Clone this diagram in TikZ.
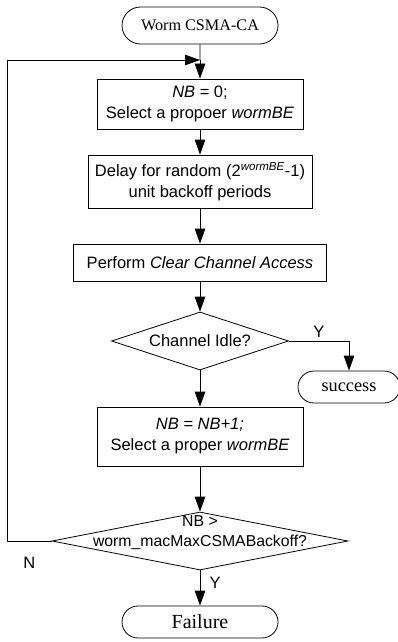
\documentclass[tikz,border=0pt]{standalone}
\usepackage{fontspec}
\setmainfont{Liberation Sans}
\newfontfamily\termfont{Liberation Serif}
\usetikzlibrary{shapes.geometric,shapes.misc,arrows.meta}

\begin{document}
\begin{tikzpicture}[x=1pt, y=-1pt, line width=0.8pt,
  font=\fontsize{16.5}{21}\selectfont,
  term/.style={draw, rounded rectangle, inner sep=0pt},
  proc/.style={draw, rectangle, inner sep=0pt, align=center},
  decide/.style={draw, diamond, inner sep=0pt},
  flow/.style={-{Triangle[length=15pt, width=10.5pt]}}]
  \useasboundingbox (0,0) rectangle (398,642);
  % Start and the loop entry
  \node[term, minimum width=156pt, minimum height=37pt,
        font=\termfont\fontsize{16.2}{19}\selectfont] (start) at (200,25.5) {Worm CSMA-CA};
  \coordinate (join) at (200,60);
  \coordinate (loop) at (7,60);
  % Process boxes
  \node[proc, minimum width=206pt, minimum height=50pt] (reset) at (200,104)
    {\textit{NB} = 0;\\Select a propoer \textit{wormBE}};
  \node[proc, minimum width=224pt, minimum height=53pt] (delay) at (200,181.5)
    {Delay for random (2\textsuperscript{\itshape wormBE}-1)\\unit backoff periods};
  \node[proc, minimum width=253pt, minimum height=37pt] (cca) at (200,262.5)
    {Perform \textit{Clear Channel Access}};
  % Decisions
  \node[decide, minimum width=177pt, minimum height=58pt,
        label=center:{Channel Idle?}] (idle) at (200,341) {};
  \node[term, minimum width=102pt, minimum height=32pt,
        font=\termfont\fontsize{18.3}{21}\selectfont] (success) at (349,387) {success};
  \node[proc, minimum width=206pt, minimum height=59pt] (incr) at (200,436.5)
    {\textit{NB = NB+1;}\\Select a proper \textit{wormBE}};
  \node[decide, minimum width=296pt, minimum height=58pt,
        label={[yshift=8pt, align=center, font=\fontsize{15.8}{20}\selectfont]center:{NB >\\worm\_macMaxCSMABackoff?}}]
        (maxbo) at (200,541) {};
  \node[term, minimum width=156pt, minimum height=32pt,
        font=\termfont\fontsize{20}{23}\selectfont] (failure) at (200,622) {Failure};
  % Connectors
  \draw (start) -- (join);
  \draw[flow] (join) -- (reset);
  \draw[flow] (reset) -- (delay);
  \draw[flow] (delay) -- (cca);
  \draw[flow] (cca) -- (idle);
  \draw[flow] (idle) -- (incr);
  \draw[flow] (incr) -- (maxbo);
  \draw[flow] (idle.east) -| (success) node[pos=0.25, above=0pt] {Y};
  \draw[flow] (maxbo) -- (failure) node[pos=0.35, right=6pt] {Y};
  \draw[flow] (maxbo.west) -| (loop) node[pos=0.25, below=12pt] {N} -- (join);
\end{tikzpicture}
\end{document}
